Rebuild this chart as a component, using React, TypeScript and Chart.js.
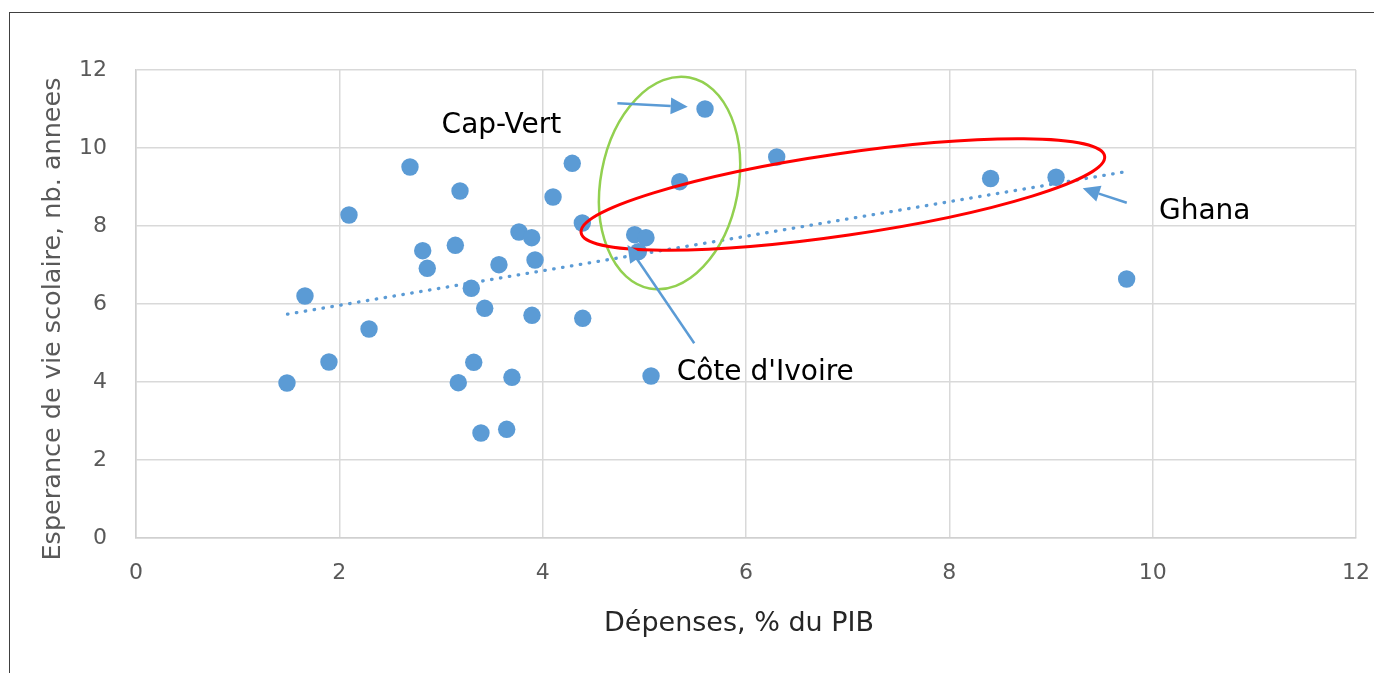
import React, { useEffect, useRef } from "react";
import { Chart, registerables } from "chart.js";

Chart.register(...registerables);

// ---- Data ----
const depenses = [
  1.485, 1.662, 1.898, 2.095, 2.292, 2.695, 2.82, 2.865, 3.141, 3.187, 3.17, 3.298,
  3.322, 3.393, 3.43, 3.57, 3.646, 3.698, 3.767, 3.892, 3.895, 3.925, 4.102, 4.291,
  4.39, 4.394, 4.905, 5.016, 4.941, 5.066, 5.348, 5.597, 6.302, 8.406, 9.05, 9.744,
];
const esperance = [
  3.974, 6.205, 4.513, 8.282, 5.359, 9.513, 7.367, 6.915, 7.505, 8.897, 3.982, 6.403,
  4.505, 2.692, 5.89, 7.008, 2.787, 4.121, 7.846, 7.7, 5.71, 7.128, 8.744, 9.608,
  8.077, 5.633, 7.777, 7.7, 7.341, 4.154, 9.136, 11.0, 9.769, 9.218, 9.25, 6.641,
];
// Linear trend line end points (dotted)
const trendX = [1.49, 9.72];
const trendY = [5.74, 9.385];

const xTicks = [0, 2, 4, 6, 8, 10, 12];
const yTicks = [0, 2, 4, 6, 8, 10, 12];

const xTitle = "Dépenses, % du PIB";
const yTitle = "Esperance de vie scolaire, nb. annees";

// Annotation texts (data coordinates of text baseline start)
const noteText = ["Cap-Vert", "Côte d'Ivoire", "Ghana"];
const noteX = [3.006, 5.318, 10.062];
const noteY = [10.377, 4.051, 8.172];

// Arrows (data coordinates: tail -> tip)
const arrowFromX = [4.735, 5.491, 9.745];
const arrowFromY = [11.146, 4.992, 8.597];
const arrowToX = [5.427, 4.834, 9.312];
const arrowToY = [11.059, 7.513, 8.967];

// Ellipses (center in data units, radii in axis units, rotation in degrees)
const ellCX = [5.248, 6.953];
const ellCY = [9.103, 8.808];
const ellRX = [0.677, 2.602];
const ellRY = [2.754, 1.051];
const ellRot = [10.7, -8.3];
const ellColor = ["#92D050", "#FF0000"];
const ellWidth = [2.5, 3];

const BLUE = "#5B9BD5";
const FONT = "'DejaVu Sans', sans-serif";

const annotationPlugin = {
  id: "annotations",
  afterDatasetsDraw(chart: any) {
    const { ctx, scales, chartArea } = chart;
    const xs = scales.x;
    const ys = scales.y;
    const ppx = xs.getPixelForValue(1) - xs.getPixelForValue(0);
    const ppy = ys.getPixelForValue(0) - ys.getPixelForValue(1);
    ctx.save();

    // ellipses
    for (let i = 0; i < ellCX.length; i++) {
      ctx.beginPath();
      ctx.ellipse(
        xs.getPixelForValue(ellCX[i]),
        ys.getPixelForValue(ellCY[i]),
        ellRX[i] * ppx,
        ellRY[i] * ppy,
        (ellRot[i] * Math.PI) / 180,
        0,
        Math.PI * 2
      );
      ctx.strokeStyle = ellColor[i];
      ctx.lineWidth = ellWidth[i];
      ctx.stroke();
    }

    // arrows
    for (let i = 0; i < arrowFromX.length; i++) {
      const x1 = xs.getPixelForValue(arrowFromX[i]);
      const y1 = ys.getPixelForValue(arrowFromY[i]);
      const x2 = xs.getPixelForValue(arrowToX[i]);
      const y2 = ys.getPixelForValue(arrowToY[i]);
      const ang = Math.atan2(y2 - y1, x2 - x1);
      const headLen = 17;
      const headHalf = 8.3;
      const bx = x2 - headLen * Math.cos(ang);
      const by = y2 - headLen * Math.sin(ang);
      ctx.beginPath();
      ctx.moveTo(x1, y1);
      ctx.lineTo(bx, by);
      ctx.strokeStyle = BLUE;
      ctx.lineWidth = 2.5;
      ctx.stroke();
      ctx.beginPath();
      ctx.moveTo(x2, y2);
      ctx.lineTo(bx + headHalf * Math.sin(ang), by - headHalf * Math.cos(ang));
      ctx.lineTo(bx - headHalf * Math.sin(ang), by + headHalf * Math.cos(ang));
      ctx.closePath();
      ctx.fillStyle = BLUE;
      ctx.fill();
    }

    // annotation texts
    ctx.fillStyle = "#000000";
    ctx.font = `28px ${FONT}`;
    ctx.textAlign = "left";
    ctx.textBaseline = "alphabetic";
    for (let i = 0; i < noteText.length; i++) {
      ctx.fillText(noteText[i], xs.getPixelForValue(noteX[i]), ys.getPixelForValue(noteY[i]));
    }

    // axis titles
    ctx.fillStyle = "#262626";
    ctx.font = `27px ${FONT}`;
    ctx.textAlign = "center";
    ctx.fillText(xTitle, chartArea.left + 603, chartArea.bottom + 92.7);

    ctx.save();
    ctx.fillStyle = "#595959";
    ctx.font = `25.5px ${FONT}`;
    ctx.translate(chartArea.left - 76, (chartArea.top + chartArea.bottom) / 2 + 15);
    ctx.rotate(-Math.PI / 2);
    ctx.textAlign = "center";
    ctx.textBaseline = "alphabetic";
    ctx.fillText(yTitle, 0, 0);
    ctx.restore();

    ctx.restore();
  },
};

export default function App() {
  const canvasRef = useRef<HTMLCanvasElement | null>(null);

  useEffect(() => {
    const canvas = canvasRef.current;
    if (!canvas) return;
    const chart = new Chart(canvas, {
      type: "scatter",
      data: {
        datasets: [
          {
            type: "line",
            label: "Tendance",
            data: trendX.map((x, i) => ({ x, y: trendY[i] })),
            borderColor: BLUE,
            borderWidth: 3.3,
            borderDash: [0.5, 8.5],
            borderCapStyle: "round",
            pointRadius: 0,
            fill: false,
            tension: 0,
            order: 0,
          } as any,
          {
            label: "Pays",
            data: depenses.map((x, i) => ({ x, y: esperance[i] })),
            backgroundColor: BLUE,
            borderWidth: 0,
            pointRadius: 8.7,
            pointHoverRadius: 8.7,
            order: 1,
          },
        ],
      },
      options: {
        animation: false,
        responsive: false,
        devicePixelRatio: 1,
        layout: { padding: { left: 0, top: 70, right: 0, bottom: 0 } },
        plugins: {
          legend: { display: false },
          tooltip: { enabled: false },
        },
        scales: {
          x: {
            type: "linear",
            position: "bottom",
            min: 0,
            max: 12,
            afterBuildTicks: (s: any) => {
              s.ticks = xTicks.map((v) => ({ value: v }));
            },
            afterFit: (s: any) => {
              s.height = 135;
              s.paddingLeft = 0;
              s.paddingRight = 18;
            },
            ticks: {
              color: "#595959",
              font: { family: FONT, size: 22 },
              padding: 22,
            },
            grid: { color: "#D9D9D9", lineWidth: 1.5, drawTicks: false },
            border: { color: "#D0D0D0", width: 1.5 },
          },
          y: {
            type: "linear",
            min: 0,
            max: 12,
            afterBuildTicks: (s: any) => {
              s.ticks = yTicks.map((v) => ({ value: v }));
            },
            afterFit: (s: any) => {
              s.width = 136;
            },
            ticks: {
              color: "#595959",
              font: { family: FONT, size: 22 },
              padding: 29,
            },
            grid: { color: "#D9D9D9", lineWidth: 1.5, drawTicks: false },
            border: { color: "#D0D0D0", width: 1.5 },
          },
        },
      },
      plugins: [annotationPlugin],
    });
    return () => chart.destroy();
  }, []);

  return (
    <div>
      <div
        style={{
          position: "fixed",
          left: 9,
          top: 12,
          width: 1420,
          height: 720,
          border: "1px solid #404040",
          background: "#ffffff",
        }}
      />
      <canvas
        ref={canvasRef}
        width={1374}
        height={673}
        style={{ position: "fixed", left: 0, top: 0, width: 1374, height: 673 }}
      />
    </div>
  );
}
